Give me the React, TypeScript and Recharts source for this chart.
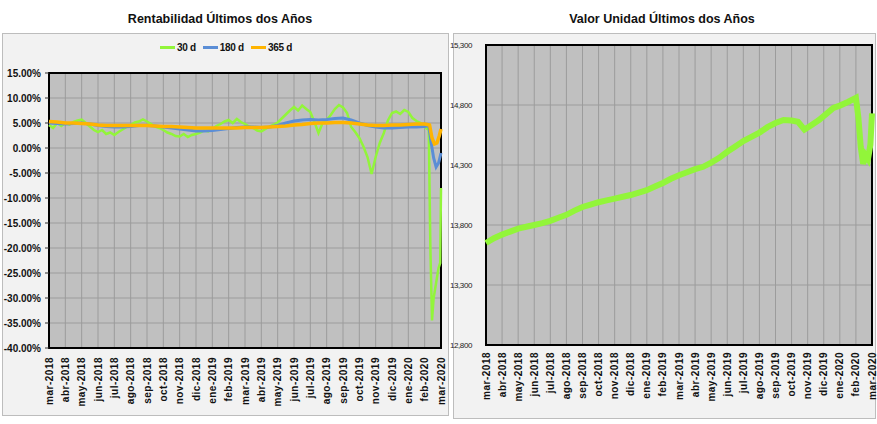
import React from 'react';
import { LineChart, Line, XAxis, YAxis, CartesianGrid, ReferenceArea } from 'recharts';

// month labels, index = months since mar-2018
const months = [
  'mar-2018', 'abr-2018', 'may-2018', 'jun-2018', 'jul-2018', 'ago-2018', 'sep-2018',
  'oct-2018', 'nov-2018', 'dic-2018', 'ene-2019', 'feb-2019', 'mar-2019', 'abr-2019',
  'may-2019', 'jun-2019', 'jul-2019', 'ago-2019', 'sep-2019', 'oct-2019', 'nov-2019',
  'dic-2019', 'ene-2020', 'feb-2020', 'mar-2020',
];
const monthTicks = [0, 1, 2, 3, 4, 5, 6, 7, 8, 9, 10, 11, 12, 13, 14, 15, 16, 17, 18, 19, 20, 21, 22, 23, 24];

const pctTicks = [-40, -35, -30, -25, -20, -15, -10, -5, 0, 5, 10, 15];
const valorTicks = [12800, 13300, 13800, 14300, 14800, 15300];

// [month, %]
const ret30: [number, number][] = [
  [0, 4.6], [0.25, 4.0], [0.5, 5.0], [0.75, 4.4],
  [1, 5.0], [1.25, 4.7], [1.5, 5.2], [1.75, 5.5],
  [2, 5.7], [2.25, 5.0], [2.5, 4.3], [2.75, 3.6],
  [3, 3.2], [3.25, 3.6], [3.5, 2.8], [3.75, 3.1],
  [4, 2.6], [4.25, 3.2], [4.5, 3.7], [4.75, 4.2],
  [5, 4.6], [5.25, 5.1], [5.5, 5.3], [5.75, 5.7],
  [6, 5.3], [6.25, 4.8], [6.5, 4.3], [6.75, 4.0],
  [7, 3.6], [7.25, 3.1], [7.5, 2.8], [7.75, 2.4],
  [8, 2.3], [8.25, 2.8], [8.5, 2.2], [8.75, 2.6],
  [9, 2.8], [9.25, 3.1], [9.5, 3.5], [9.75, 3.3],
  [10, 3.8], [10.25, 4.4], [10.5, 4.8], [10.75, 5.3],
  [11, 5.6], [11.25, 5.0], [11.5, 5.8], [11.75, 5.2],
  [12, 4.8], [12.25, 4.3], [12.5, 4.0], [12.75, 3.5],
  [13, 3.3], [13.25, 3.8], [13.5, 4.3], [13.75, 4.7],
  [14, 5.1], [14.25, 5.9], [14.5, 6.7], [14.75, 7.5],
  [15, 8.2], [15.25, 7.5], [15.5, 8.5], [15.75, 7.8],
  [16, 7.2], [16.25, 5.2], [16.5, 3.0], [16.75, 5.0],
  [17, 5.6], [17.25, 6.6], [17.5, 7.8], [17.75, 8.6],
  [18, 8.1], [18.25, 7.0], [18.5, 4.2], [18.75, 3.2],
  [19, 2.0], [19.25, 0.3], [19.5, -1.8], [19.75, -5.2],
  [20, -1.8], [20.25, 1.0], [20.5, 3.0], [20.75, 5.5],
  [21, 7.0], [21.25, 7.3], [21.5, 6.8], [21.75, 7.6],
  [22, 7.2], [22.25, 6.0], [22.5, 5.4], [22.75, 5.0],
  [23, 4.2], [23.25, 3.6], [23.35, -20], [23.45, -34.5], [23.55, -30],
  [23.7, -27], [23.85, -24], [23.95, -23], [24, -8],
];

const ret180: [number, number][] = [
  [0, 5.0], [0.5, 4.9], [1, 4.8], [1.5, 4.9], [2, 5.0], [2.5, 4.8], [3, 4.5], [3.5, 4.3],
  [4, 4.2], [4.5, 4.2], [5, 4.3], [5.5, 4.5], [6, 4.5], [6.5, 4.4], [7, 4.2], [7.5, 4.0],
  [8, 3.8], [8.5, 3.6], [9, 3.4], [9.5, 3.4], [10, 3.5], [10.5, 3.7], [11, 3.9], [11.5, 4.1],
  [12, 4.2], [12.5, 4.2], [13, 4.1], [13.5, 4.2], [14, 4.5], [14.5, 5.0], [15, 5.4], [15.5, 5.6],
  [16, 5.7], [16.5, 5.6], [17, 5.7], [17.5, 5.9], [18, 6.0], [18.5, 5.6], [19, 5.0], [19.5, 4.5],
  [20, 4.2], [20.5, 4.0], [21, 4.0], [21.5, 4.1], [22, 4.2], [22.5, 4.2], [23, 4.3], [23.25, 4.5],
  [23.4, 1.0], [23.55, -2.0], [23.7, -3.8], [23.85, -3.0], [24, -1.0],
];

const ret365: [number, number][] = [
  [0, 5.3], [0.5, 5.2], [1, 5.0], [1.5, 5.0], [2, 4.9], [2.5, 4.8], [3, 4.6], [3.5, 4.5],
  [4, 4.5], [4.5, 4.5], [5, 4.5], [5.5, 4.5], [6, 4.5], [6.5, 4.4], [7, 4.3], [7.5, 4.3],
  [8, 4.2], [8.5, 4.1], [9, 4.0], [9.5, 4.0], [10, 4.0], [10.5, 4.0], [11, 4.0], [11.5, 4.0],
  [12, 4.1], [12.5, 4.1], [13, 4.1], [13.5, 4.2], [14, 4.3], [14.5, 4.4], [15, 4.6], [15.5, 4.7],
  [16, 4.9], [16.5, 5.0], [17, 5.0], [17.5, 5.1], [18, 5.1], [18.5, 5.0], [19, 4.8], [19.5, 4.6],
  [20, 4.5], [20.5, 4.5], [21, 4.6], [21.5, 4.6], [22, 4.7], [22.5, 4.8], [23, 4.8], [23.3, 4.6],
  [23.45, 2.0], [23.6, 0.8], [23.75, 1.0], [23.9, 2.5], [24, 3.8],
];

// [month, valor cuota]
const valor: [number, number][] = [
  [0, 13650], [0.5, 13690], [1, 13720], [1.5, 13745], [2, 13770], [2.5, 13785], [3, 13800],
  [3.5, 13815], [4, 13835], [4.5, 13860], [5, 13885], [5.5, 13920], [6, 13950], [6.5, 13970],
  [7, 13990], [7.5, 14005], [8, 14020], [8.5, 14035], [9, 14050], [9.5, 14070], [10, 14090],
  [10.5, 14120], [11, 14150], [11.5, 14185], [12, 14215], [12.5, 14240], [13, 14265],
  [13.5, 14285], [14, 14320], [14.5, 14360], [15, 14410], [15.5, 14455], [16, 14500],
  [16.5, 14535], [17, 14570], [17.5, 14615], [18, 14650], [18.5, 14675], [19, 14670],
  [19.4, 14660], [19.8, 14595], [20.2, 14630], [20.7, 14675], [21.2, 14730], [21.6, 14775],
  [22, 14795], [22.5, 14825], [23, 14860], [23.15, 14700], [23.3, 14450], [23.45, 14310],
  [23.6, 14380], [23.75, 14350], [23.9, 14470], [24, 14730],
];

const toRows = (pts: [number, number][]) => pts.map(([x, v]) => ({ x, v }));

const FONT = '"Liberation Sans", Arial, sans-serif';
const GREEN = '#92F53A';
const BLUE = '#5B8ED6';
const ORANGE = '#FFB400';
const PLOT_BG = '#C0C0C0';
const GRID = '#9C9C9C';

const MonthTick = (props: any) => {
  const { x, y, payload } = props;
  return (
    <g transform={`translate(${x},${y})`}>
      <text
        transform="rotate(-90)"
        textAnchor="end"
        dy="0.35em"
        fontSize={10}
        fontWeight="bold"
        letterSpacing={0.5}
        fontFamily={FONT}
        fill="#111"
      >
        {months[payload.value]}
      </text>
    </g>
  );
};

const legendItems = [
  { label: '30 d', color: GREEN },
  { label: '180 d', color: BLUE },
  { label: '365 d', color: ORANGE },
];

const App = () => {
  return (
    <div style={{ position: 'absolute', left: 0, top: 0, width: 877, height: 424, background: '#fff', fontFamily: FONT }}>
      {/* panels */}
      <div style={{ position: 'absolute', left: 2, top: 33, width: 447, height: 383, background: '#F2F2F2', border: '1px solid #BDBDBD', boxSizing: 'border-box' }} />
      <div style={{ position: 'absolute', left: 453, top: 33, width: 423, height: 386, background: '#F2F2F2', border: '1px solid #BDBDBD', boxSizing: 'border-box' }} />

      {/* titles */}
      <div style={{ position: 'absolute', left: 0, top: 12, width: 440, textAlign: 'center', fontSize: 12.5, fontWeight: 'bold', color: '#111' }}>
        Rentabilidad Últimos dos Años
      </div>
      <div style={{ position: 'absolute', left: 440, top: 12, width: 444, textAlign: 'center', fontSize: 12.5, fontWeight: 'bold', color: '#111' }}>
        Valor Unidad Últimos dos Años
      </div>

      {/* legend */}
      <div style={{ position: 'absolute', left: 160, top: 42, display: 'flex', alignItems: 'center', fontSize: 10, fontWeight: 'bold', letterSpacing: -0.3, color: '#111' }}>
        {legendItems.map((it) => (
          <div key={it.label} style={{ display: 'flex', alignItems: 'center', marginRight: 7 }}>
            <span style={{ display: 'inline-block', width: 15, height: 3, background: it.color, marginRight: 2 }} />
            <span>{it.label}</span>
          </div>
        ))}
      </div>

      {/* left chart */}
      <div style={{ position: 'absolute', left: 0, top: 0 }}>
        <LineChart width={449} height={424} margin={{ top: 73, right: 8, left: 4, bottom: 16 }}>
          <CartesianGrid fill={PLOT_BG} stroke={GRID} strokeWidth={1} />
          <XAxis
            type="number"
            dataKey="x"
            domain={[0, 24]}
            ticks={monthTicks}
            interval={0}
            height={60}
            axisLine={false}
            tickLine={false}
            tickSize={0}
            tickMargin={9}
            tick={<MonthTick />}
          />
          <YAxis
            type="number"
            domain={[-40, 15]}
            ticks={pctTicks}
            interval={0}
            width={45}
            axisLine={false}
            tickSize={4}
            tickMargin={4}
            tickLine={{ stroke: '#333' }}
            tickFormatter={(v: number) => `${v.toFixed(2)}%`}
            tick={{ fontSize: 10, fontWeight: 'bold', fill: '#111', fontFamily: FONT }}
          />
          <ReferenceArea x1={0} x2={24} y1={-40} y2={15} fill="none" stroke="#000" strokeWidth={2} ifOverflow="visible" />
          <Line data={toRows(ret30)} dataKey="v" stroke={GREEN} strokeWidth={2.5} dot={false} isAnimationActive={false} />
          <Line data={toRows(ret180)} dataKey="v" stroke={BLUE} strokeWidth={3} dot={false} isAnimationActive={false} />
          <Line data={toRows(ret365)} dataKey="v" stroke={ORANGE} strokeWidth={3.5} dot={false} isAnimationActive={false} />
        </LineChart>
      </div>

      {/* right chart */}
      <div style={{ position: 'absolute', left: 440, top: 0 }}>
        <LineChart width={437} height={424} margin={{ top: 45, right: 5, left: 6, bottom: 19 }}>
          <CartesianGrid fill={PLOT_BG} stroke={GRID} strokeWidth={1} />
          <XAxis
            type="number"
            dataKey="x"
            domain={[0, 24]}
            ticks={monthTicks}
            interval={0}
            height={60}
            axisLine={false}
            tickLine={false}
            tickSize={0}
            tickMargin={7}
            tick={<MonthTick />}
          />
          <YAxis
            type="number"
            domain={[12800, 15300]}
            ticks={valorTicks}
            interval={0}
            width={40}
            axisLine={false}
            tickLine={false}
            tickMargin={8}
            tickFormatter={(v: number) => v.toLocaleString('en-US')}
            tick={{ fontSize: 8, fill: '#222', letterSpacing: -0.4, fontFamily: FONT }}
          />
          <ReferenceArea x1={0} x2={24} y1={12800} y2={15300} fill="none" stroke="#000" strokeWidth={2} ifOverflow="visible" />
          <Line data={toRows(valor)} dataKey="v" stroke={GREEN} strokeWidth={6} dot={false} isAnimationActive={false} />
        </LineChart>
      </div>
    </div>
  );
};

export default App;
